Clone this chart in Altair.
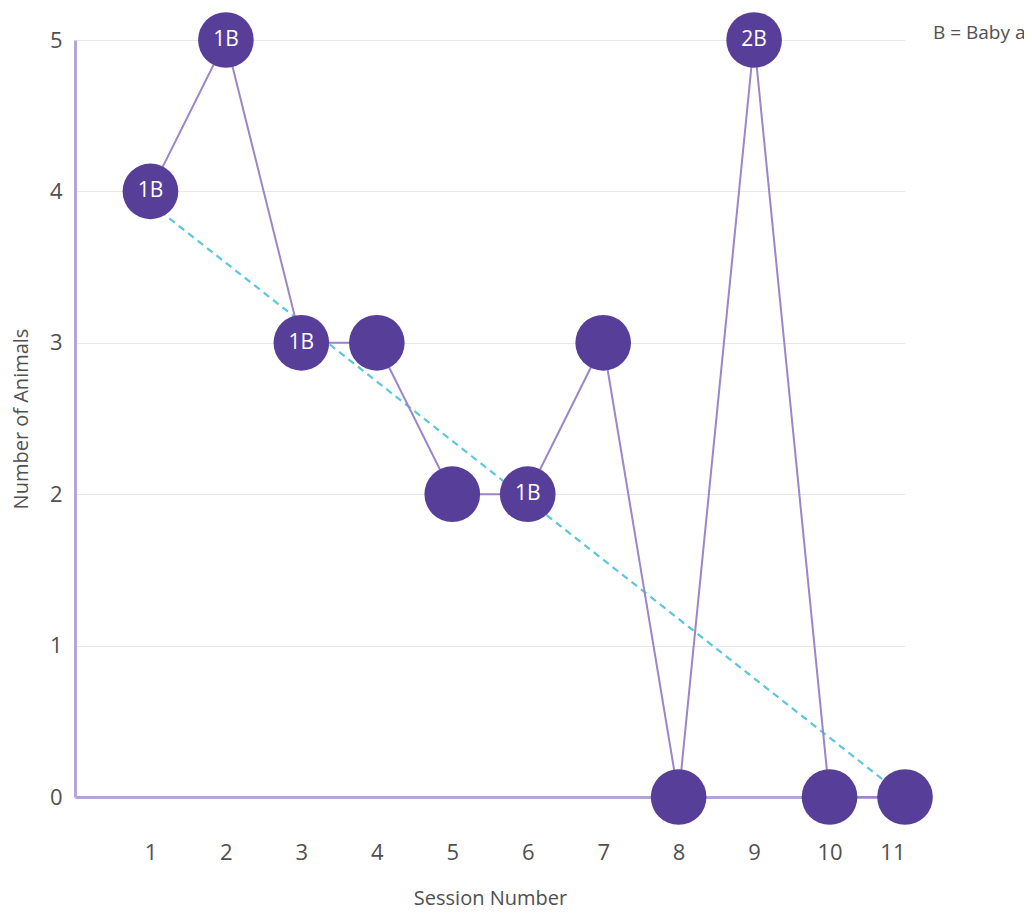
import altair as alt
import pandas as pd

sessions = [1, 2, 3, 4, 5, 6, 7, 8, 9, 10, 11]
animals = [4, 5, 3, 3, 2, 2, 3, 0, 5, 0, 0]
babies = ["1B", "1B", "1B", "", "", "1B", "", "", "2B", "", ""]
trend_x = [1, 11]
trend_y = [3.92, 0.0]
note = "B = Baby animals"

df = pd.DataFrame({"session": sessions, "animals": animals, "babies": babies})
trend = pd.DataFrame({"session": trend_x, "animals": trend_y})

FONT = "Open Sans"
PURPLE = "#573e98"
LINE = "#9a86c8"
AXIS = "#b3a5da"
TXT = "#505050"

xs = alt.Scale(domain=[0, 11], nice=False, zero=True)
ys = alt.Scale(domain=[0, 5], nice=False)

x_enc = alt.X("session:Q", scale=xs, title="Session Number",
              axis=alt.Axis(values=sessions, format="d", grid=False, ticks=False, tickSize=0,
                            labelPadding=45, titlePadding=25,
                            domainColor=AXIS, domainWidth=3,
                            labelFontSize=22, titleFontSize=20,
                            labelFont=FONT, titleFont=FONT,
                            labelColor=TXT, titleColor=TXT,
                            titleFontWeight="normal"))
y_enc = alt.Y("animals:Q", scale=ys, title="Number of Animals",
              axis=alt.Axis(values=[0, 1, 2, 3, 4, 5], format="d", grid=True, gridColor="#e8e8e8",
                            gridWidth=1, ticks=False, tickSize=0,
                            labelPadding=13, titlePadding=18,
                            domainColor=AXIS, domainWidth=3,
                            labelFontSize=22, titleFontSize=20,
                            labelFont=FONT, titleFont=FONT,
                            labelColor=TXT, titleColor=TXT,
                            titleFontWeight="normal"))

base = alt.Chart(df)

trend_line = alt.Chart(trend).mark_line(
    color="#5cc6dc", strokeWidth=2.2, strokeDash=[7, 5]
).encode(x=alt.X("session:Q", scale=xs), y=alt.Y("animals:Q", scale=ys))

line = base.mark_line(color=LINE, strokeWidth=2).encode(x=x_enc, y=y_enc)

points = base.mark_circle(size=3100, color=PURPLE, opacity=1).encode(
    x=alt.X("session:Q", scale=xs), y=alt.Y("animals:Q", scale=ys))

labels = base.mark_text(color="white", fontSize=21, font=FONT, dy=0).encode(
    x=alt.X("session:Q", scale=xs), y=alt.Y("animals:Q", scale=ys),
    text="babies:N")

note_df = pd.DataFrame({"t": [note]})
note_mark = alt.Chart(note_df).mark_text(
    align="left", baseline="middle", fontSize=19, font=FONT, color=TXT
).encode(x=alt.value(858), y=alt.value(-7), text="t:N")

chart = alt.layer(trend_line, line, points, labels, note_mark).properties(
    width=830, height=757,
    autosize=alt.AutoSizeParams(type="none"),
    padding={"left": 67, "top": 32, "right": 119, "bottom": 116},
).configure_view(stroke=None)

chart.save("out.html", embed_options={"renderer": "svg", "actions": False})
